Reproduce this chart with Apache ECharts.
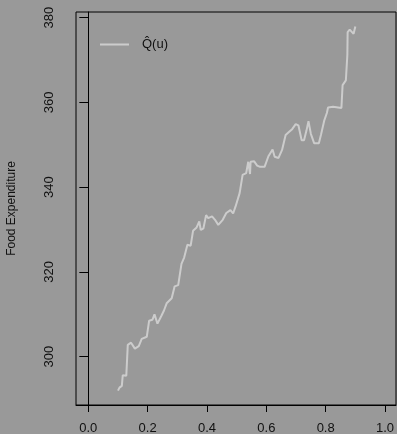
<!DOCTYPE html>
<html>
<head>
<meta charset="utf-8">
<script src="https://cdn.jsdelivr.net/npm/echarts@6/dist/echarts.min.js"></script>
<style>
html,body{margin:0;padding:0;background:#999999;}
#chart{width:397px;height:434px;}
</style>
</head>
<body>
<div id="chart"></div>
<script>
var uValues = [0.100, 0.105, 0.113, 0.116, 0.128, 0.133, 0.144, 0.157, 0.170, 0.180,
  0.197, 0.205, 0.216, 0.223, 0.233, 0.246, 0.255, 0.264, 0.281, 0.291,
  0.303, 0.314, 0.323, 0.329, 0.334, 0.345, 0.353, 0.365, 0.374, 0.379,
  0.388, 0.397, 0.404, 0.417, 0.427, 0.438, 0.453, 0.465, 0.479, 0.488,
  0.496, 0.502, 0.510, 0.520, 0.532, 0.539, 0.545, 0.547, 0.559, 0.569,
  0.579, 0.594, 0.607, 0.621, 0.628, 0.641, 0.653, 0.665, 0.676, 0.687,
  0.699, 0.708, 0.719, 0.727, 0.735, 0.742, 0.750, 0.761, 0.777, 0.784,
  0.795, 0.804, 0.808, 0.825, 0.853, 0.857, 0.868, 0.873, 0.874, 0.881,
  0.894, 0.900];
var qValues = [292.0, 292.7, 293.1, 295.6, 295.5, 302.8, 303.3, 301.9, 302.5, 304.2,
  304.7, 308.5, 308.7, 310.0, 307.8, 309.6, 310.9, 312.6, 313.8, 316.6,
  316.9, 321.9, 323.4, 323.6, 326.4, 326.2, 329.7, 330.5, 331.9, 329.9,
  330.3, 333.4, 332.7, 333.1, 332.3, 331.1, 332.3, 333.9, 334.6, 333.8,
  335.4, 335.8, 338.6, 342.9, 343.3, 346.0, 343.1, 346.0, 346.1, 345.1,
  344.8, 344.8, 347.3, 348.9, 347.2, 346.9, 348.8, 352.3, 353.0, 353.7,
  354.9, 354.6, 351.1, 351.1, 353.3, 355.6, 352.6, 350.4, 350.4, 352.3,
  355.7, 357.5, 358.8, 359.0, 358.7, 364.1, 365.2, 371.2, 376.6, 377.2,
  376.2, 377.9];
var xTicks = [0.0, 0.2, 0.4, 0.6, 0.8, 1.0];
var yTicks = [300, 320, 340, 360, 380];
var seriesName = 'Q\u0302(u)';
var yTitle = 'Food Expenditure';

var pts = uValues.map(function (u, i) { return [u, qValues[i]]; });
var chart = echarts.init(document.getElementById('chart'), null, {renderer: 'canvas'});
var font = 'Liberation Sans, Arial, sans-serif';
chart.setOption({
  backgroundColor: '#999999',
  animation: false,
  grid: {left: 76, top: 12, width: 320, height: 393, show: true, borderColor: '#000', borderWidth: 1,
    backgroundColor: 'transparent', outerBoundsMode: 'none', containLabel: false},
  legend: {
    show: true, left: 100, top: 38, padding: 0, icon: 'rect', itemWidth: 29, itemHeight: 2, itemGap: 0,
    textStyle: {color: '#111', fontFamily: font, fontSize: 13, padding: [0, 0, 0, 8]},
    data: [{name: seriesName, itemStyle: {color: '#cccccc'}}]
  },
  xAxis: {
    type: 'value', min: -0.0415, max: 1.037,
    axisLine: {show: true, lineStyle: {color: '#000', width: 1}},
    splitLine: {show: false},
    axisTick: {show: true, length: 7, customValues: xTicks, lineStyle: {color: '#000'}},
    axisLabel: {show: true, customValues: xTicks, margin: 17, color: '#111', fontFamily: font, fontSize: 13,
      formatter: function (v) { return v.toFixed(1); }}
  },
  yAxis: {
    type: 'value', min: 288.6, max: 381.345,
    name: yTitle, nameLocation: 'middle', nameGap: 58, nameRotate: 90,
    nameTextStyle: {color: '#111', fontFamily: font, fontSize: 12},
    axisLine: {show: true, lineStyle: {color: '#000', width: 1}},
    splitLine: {show: false},
    axisTick: {show: true, length: 9, customValues: yTicks, lineStyle: {color: '#000'}},
    axisLabel: {show: true, customValues: yTicks, rotate: 90, margin: 20, color: '#111', fontFamily: font, fontSize: 13,
      formatter: function (v) { return String(v); }}
  },
  series: [{
    name: seriesName, type: 'line', data: pts, showSymbol: false, symbol: 'none',
    lineStyle: {color: '#cccccc', width: 2}, itemStyle: {color: '#cccccc'}
  }]
});
</script>
</body>
</html>
